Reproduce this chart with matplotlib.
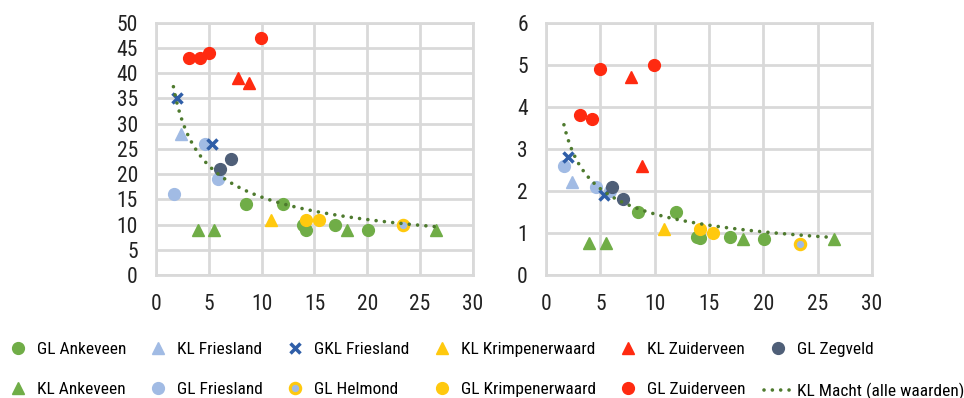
import matplotlib
matplotlib.use("Agg")
import matplotlib.pyplot as plt
import numpy as np

plt.rcParams['font.family'] = ['Roboto Condensed', 'Archivo Narrow', 'Liberation Sans Narrow', 'DejaVu Sans']

# series: (x, left y, right y)
gl_ankeveen_x = [8.5, 12.0, 13.9, 14.2, 16.9, 20.1]
gl_ankeveen_l = [14, 14, 10, 9, 10, 9]
gl_ankeveen_r = [1.5, 1.5, 0.9, 0.87, 0.9, 0.86]

kl_ankeveen_x = [4.0, 5.5, 18.1, 26.5]
kl_ankeveen_l = [9, 9, 9, 9]
kl_ankeveen_r = [0.75, 0.75, 0.86, 0.86]

kl_friesland_x = [2.4]
kl_friesland_l = [28]
kl_friesland_r = [2.2]

gl_friesland_x = [1.7, 4.6, 5.9]
gl_friesland_l = [16, 26, 19]
gl_friesland_r = [2.6, 2.1, 2.0]

gkl_friesland_x = [2.0, 5.3]
gkl_friesland_l = [35, 26]
gkl_friesland_r = [2.8, 1.9]

gl_helmond_x = [23.4]
gl_helmond_l = [10]
gl_helmond_r = [0.73]

kl_krimpen_x = [10.9]
kl_krimpen_l = [11]
kl_krimpen_r = [1.1]

gl_krimpen_x = [14.2, 15.4]
gl_krimpen_l = [11, 11]
gl_krimpen_r = [1.1, 1.01]

kl_zuid_x = [7.8, 8.8]
kl_zuid_l = [39, 38]
kl_zuid_r = [4.7, 2.6]

gl_zuid_x = [3.1, 4.2, 5.0, 9.9]
gl_zuid_l = [43, 43, 44, 47]
gl_zuid_r = [3.8, 3.7, 4.9, 5.0]

gl_zegveld_x = [6.1, 7.1]
gl_zegveld_l = [21, 23]
gl_zegveld_r = [2.1, 1.8]

# power trend  y = a * x^b  (KL Macht)
trend_range = [1.65, 26.5]
trend_left = [47.7, -0.49]
trend_right = [4.59, -0.50]

green = '#70AD47'
lblue = '#A1BBE4'
dblue = '#2F5EA8'
yellow = '#FFC90E'
red = '#FF2A10'
slate = '#4F5F78'
tgreen = '#4E7A2E'
grid = '#D9D9D9'

fig = plt.figure(figsize=(9.64, 3.98), dpi=100)
ax1 = fig.add_axes([0.1618, 0.309, 0.3288, 0.634])
ax2 = fig.add_axes([0.5664, 0.309, 0.338, 0.634])

ms = 8.5

def draw(ax, col, ymax, step, trend):
    ys = {
        'l': [gl_ankeveen_l, kl_ankeveen_l, kl_friesland_l, gl_friesland_l, gkl_friesland_l,
              gl_helmond_l, kl_krimpen_l, gl_krimpen_l, kl_zuid_l, gl_zuid_l, gl_zegveld_l],
        'r': [gl_ankeveen_r, kl_ankeveen_r, kl_friesland_r, gl_friesland_r, gkl_friesland_r,
              gl_helmond_r, kl_krimpen_r, gl_krimpen_r, kl_zuid_r, gl_zuid_r, gl_zegveld_r],
    }[col]
    xs = [gl_ankeveen_x, kl_ankeveen_x, kl_friesland_x, gl_friesland_x, gkl_friesland_x,
          gl_helmond_x, kl_krimpen_x, gl_krimpen_x, kl_zuid_x, gl_zuid_x, gl_zegveld_x]
    styles = [
        dict(marker='o', color=green),
        dict(marker='^', color=green),
        dict(marker='^', color=lblue),
        dict(marker='o', color=lblue),
        dict(marker='x', color=dblue, mew=2.5, ms=6.5),
        dict(marker='o', mfc=lblue, mec=yellow, mew=2.2, ms=7.5),
        dict(marker='^', color=yellow),
        dict(marker='o', color=yellow),
        dict(marker='^', color=red),
        dict(marker='o', color=red),
        dict(marker='o', color=slate),
    ]
    for x, y, st in zip(xs, ys, styles):
        kw = dict(ms=ms, ls='none')
        kw.update(st)
        ax.plot(x, y, **kw, zorder=3)
    tx = np.linspace(trend_range[0], trend_range[1], 200)
    ax.plot(tx, trend[0] * tx ** trend[1], color=tgreen, lw=2.6,
            ls=(0, (0.01, 2.3)), dash_capstyle='round', zorder=4)
    ax.set_xlim(0, 30)
    ax.set_ylim(0, ymax)
    ax.set_xticks(range(0, 31, 5))
    ax.set_yticks(np.arange(0, ymax + step / 2, step))
    ax.grid(True, color=grid, lw=2)
    ax.set_axisbelow(True)
    for s in ax.spines.values():
        s.set_color(grid)
        s.set_linewidth(2)
    ax.tick_params(length=0, labelsize=15.5, colors='#222222')
    ax.tick_params(axis='x', pad=14)
    ax.tick_params(axis='y', pad=13)

draw(ax1, 'l', 50, 5, trend_left)
draw(ax2, 'r', 6, 1, trend_right)

labels = ['GL Ankeveen', 'KL Ankeveen', 'KL Friesland', 'GL Friesland', 'GKL Friesland',
          'GL Helmond', 'KL Krimpenerwaard', 'GL Krimpenerwaard', 'KL Zuiderveen',
          'GL Zuiderveen', 'GL Zegveld', 'KL Macht (alle waarden)']
handles = ax1.get_lines()[:12]
fig.legend(handles, labels, ncol=6, loc='lower left', bbox_to_anchor=(-0.007, -0.03),
           frameon=False, fontsize=12.5, handlelength=1.6, handletextpad=0.3,
           columnspacing=1.05, labelspacing=1.47, borderaxespad=0.2)

fig.savefig('out.png', dpi=100)
